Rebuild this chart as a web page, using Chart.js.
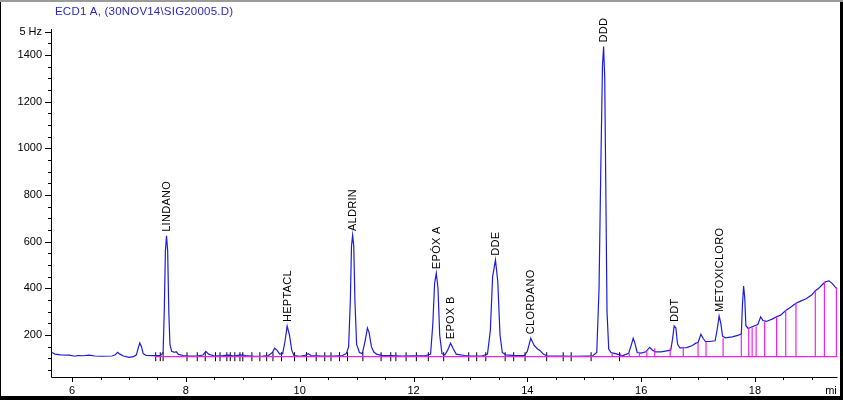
<!DOCTYPE html>
<html>
<head>
<meta charset="utf-8">
<script src="https://cdn.jsdelivr.net/npm/chart.js@4"></script>
<style>
  body { margin: 0; background: #fff; }
  canvas { display: block; }
</style>
</head>
<body>
<canvas id="chromatogram" width="843" height="400"></canvas>
<script>
// signal (time in min, response in Hz)
const sigTime = [5.65, 5.70, 5.80, 5.95, 6.05, 6.10, 6.20, 6.30, 6.40, 6.50, 6.70, 6.76, 6.80, 6.84, 6.90, 7.00, 7.08, 7.13, 7.17, 7.19, 7.22, 7.25, 7.30, 7.40, 7.50, 7.56,
    7.60, 7.62, 7.64, 7.66, 7.68, 7.70, 7.72, 7.75, 7.80, 7.83, 7.87, 7.95, 8.05, 8.20, 8.30, 8.35, 8.40, 8.50, 8.65, 8.75, 8.85, 8.95, 9.05, 9.20, 9.35, 9.45,
    9.52, 9.56, 9.60, 9.65, 9.70, 9.74, 9.78, 9.82, 9.86, 9.90, 10.00, 10.10, 10.15, 10.20, 10.40, 10.60, 10.75, 10.82, 10.86, 10.89, 10.91, 10.93, 10.95, 10.97,
    11.00, 11.05, 11.10, 11.15, 11.19, 11.22, 11.26, 11.30, 11.35, 11.45, 11.60, 11.80, 12.00, 12.20, 12.30, 12.34, 12.37, 12.40, 12.43, 12.46, 12.50, 12.55,
    12.60, 12.65, 12.70, 12.75, 12.80, 12.90, 13.00, 13.20, 13.30, 13.35, 13.39, 13.44, 13.48, 13.52, 13.56, 13.62, 13.80, 13.95, 14.00, 14.06, 14.12, 14.18,
    14.22, 14.28, 14.35, 14.60, 14.80, 15.05, 15.15, 15.22, 15.26, 15.29, 15.32, 15.34, 15.36, 15.38, 15.40, 15.43, 15.47, 15.55, 15.62, 15.66, 15.72, 15.78,
    15.83, 15.86, 15.89, 15.93, 16.00, 16.08, 16.15, 16.20, 16.25, 16.35, 16.45, 16.52, 16.55, 16.58, 16.61, 16.64, 16.68, 16.80, 16.90, 16.96, 17.00, 17.05,
    17.09, 17.13, 17.20, 17.30, 17.34, 17.37, 17.40, 17.43, 17.48, 17.60, 17.70, 17.76, 17.78, 17.80, 17.82, 17.84, 17.88, 17.95, 18.05, 18.10, 18.14, 18.20,
    18.30, 18.38, 18.45, 18.54, 18.62, 18.72, 18.80, 18.90, 19.00, 19.06, 19.12, 19.18, 19.24, 19.30, 19.36, 19.42, 19.45];
const sigValue = [125, 118, 115, 114, 109, 112, 111, 114, 110, 109, 110, 115, 126, 118, 110, 104, 107, 115, 150, 166, 150, 120, 113, 112, 112, 113,
    125, 300, 560, 625, 560, 300, 160, 130, 126, 128, 117, 112, 110, 110, 114, 130, 118, 110, 112, 114, 110, 115, 112, 109, 110, 112,
    125, 143, 135, 118, 120, 170, 238, 200, 135, 112, 108, 113, 120, 112, 110, 110, 112, 120, 150, 350, 580, 628, 580, 350,
    160, 125, 120, 175, 230, 210, 150, 128, 118, 112, 112, 110, 111, 111, 118, 250, 420, 465, 400, 200, 120, 114,
    135, 165, 140, 118, 116, 112, 110, 110, 118, 220, 450, 522, 430, 200, 125, 115, 112, 112, 130, 186, 155, 140,
    134, 118, 110, 110, 108, 110, 111, 125, 400, 900, 1350, 1436, 1300, 800, 300, 140, 125, 120, 115, 110, 116, 122,
    160, 186, 165, 125, 122, 128, 147, 135, 128, 128, 132, 135, 180, 239, 230, 160, 145, 146, 155, 165, 168, 203,
    185, 172, 172, 175, 230, 281, 250, 195, 188, 192, 198, 205, 330, 410, 360, 240, 228, 235, 245, 278, 262, 258,
    268, 278, 285, 305, 318, 336, 345, 355, 372, 390, 400, 415, 428, 432, 420, 402, 400];

const peakNames = ['LINDANO', 'HEPTACL', 'ALDRIN', 'EPÓX A', 'EPOX B', 'DDE', 'CLORDANO', 'DDD', 'DDT', 'METOXICLORO'];
const peakTimes = [7.66, 9.78, 10.93, 12.40, 12.65, 13.44, 14.06, 15.34, 16.58, 17.37];
const peakHeights = [625, 238, 628, 465, 165, 522, 186, 1436, 239, 281];

// integration baseline, drop lines and event marks
const baseStart = 7.45;
const baseLevel = 107;
const dropTimes = [15.49, 15.64, 15.79, 15.97, 16.10, 16.24, 16.51, 16.74, 17.00, 17.14, 17.44, 17.76, 17.89, 17.95, 18.02, 18.17, 18.38, 18.54, 18.72, 19.06, 19.22, 19.43];
const dropTops = [124, 121, 121, 128, 133, 143, 143, 150, 167, 171, 186, 204, 229, 233, 236, 257, 278, 307, 336, 390, 429, 400];
const eventTimes = [7.47, 7.55, 7.60, 8.02, 8.20, 8.34, 8.52, 8.60, 8.72, 8.78, 8.86, 8.95, 9.00, 9.16, 9.30, 9.42, 9.53, 9.68, 9.91, 10.12, 10.29, 10.44,
    10.55, 10.70, 10.84, 11.11, 11.43, 11.60, 11.69, 11.87, 12.05, 12.26, 12.53, 12.97, 13.11, 13.27, 13.61, 13.76, 13.96, 14.34, 14.63, 14.77, 15.12, 15.62];

const yTicks = [200, 400, 600, 800, 1000, 1200, 1400, 1500];
const yTickLabels = ['200', '400', '600', '800', '1000', '1200', '1400', '5 Hz'];
const xTicks = [6, 8, 10, 12, 14, 16, 18];

const MAGENTA = '#f020f0';
const BLUE = '#1c1ce0';

const dropData = [];
dropTimes.forEach((t, i) => {
    dropData.push({ x: t, y: baseLevel }, { x: t, y: dropTops[i] }, { x: t, y: null });
});

const decor = {
    id: 'decor',
    beforeDraw(chart) {
        const c = chart.ctx;
        c.save();
        c.fillStyle = '#fff';
        c.fillRect(0, 0, chart.width, chart.height);
        c.restore();
    },
    afterDraw(chart) {
        const c = chart.ctx;
        const xs = chart.scales.x, ys = chart.scales.y;
        const a = chart.chartArea;
        c.save();
        c.strokeStyle = '#000';
        c.lineWidth = 1;
        // axes
        c.beginPath();
        c.moveTo(a.left + 0.5, a.top);
        c.lineTo(a.left + 0.5, a.bottom + 0.5);
        c.lineTo(a.right, a.bottom + 0.5);
        c.stroke();
        // y ticks every 50
        c.beginPath();
        for (let v = 50; v <= 1500; v += 50) {
            const y = Math.round(ys.getPixelForValue(v)) + 0.5;
            const len = v % 200 === 0 || v === 1500 ? 6 : 3;
            c.moveTo(a.left - len, y);
            c.lineTo(a.left, y);
        }
        // x ticks every 0.5 min
        for (let t = 6; t <= 19.4; t += 0.5) {
            const x = Math.round(xs.getPixelForValue(t)) + 0.5;
            const len = t % 2 === 0 ? 5 : 3;
            c.moveTo(x, a.bottom);
            c.lineTo(x, a.bottom + len);
        }
        c.stroke();

        c.fillStyle = '#000';
        c.font = '11px "Liberation Sans", Arial, sans-serif';
        c.textAlign = 'right';
        c.textBaseline = 'middle';
        yTicks.forEach((v, i) => c.fillText(yTickLabels[i], 42, ys.getPixelForValue(v)));
        c.textAlign = 'center';
        xTicks.forEach(t => c.fillText(String(t), xs.getPixelForValue(t), 391));
        c.fillText('mi', 831, 391);

        // peak names
        c.textAlign = 'left';
        c.letterSpacing = '0.3px';
        peakNames.forEach((name, i) => {
            c.save();
            c.translate(xs.getPixelForValue(peakTimes[i]) + 0.5, ys.getPixelForValue(peakHeights[i]) - 4);
            c.rotate(-Math.PI / 2);
            c.fillText(name, 0, 0);
            c.restore();
        });

        // title
        c.fillStyle = '#2828c8';
        c.font = '11.5px "Liberation Sans", Arial, sans-serif';
        c.letterSpacing = '0.2px';
        c.fillText('ECD1 A, (30NOV14\\SIG20005.D)', 55, 12);

        // frame
        c.fillStyle = '#000';
        c.fillRect(840, 0, 3, 400);
        c.fillRect(0, 396, 843, 4);
        c.fillRect(0, 0, 1, 400);
        c.fillStyle = '#9a9a9a';
        c.fillRect(0, 0, 843, 2);
        c.restore();
    }
};

new Chart(document.getElementById('chromatogram').getContext('2d'), {
    type: 'line',
    data: {
        datasets: [
            {
                label: 'baseline',
                data: [{ x: baseStart, y: baseLevel }, { x: 19.45, y: baseLevel }],
                borderColor: MAGENTA,
                borderWidth: 1.2,
                pointRadius: 0
            },
            {
                label: 'drops',
                data: dropData,
                borderColor: MAGENTA,
                borderWidth: 1.2,
                pointRadius: 0,
                spanGaps: false
            },
            {
                label: 'signal',
                data: sigTime.map((t, i) => ({ x: t, y: sigValue[i] })),
                borderColor: BLUE,
                borderWidth: 1.2,
                pointRadius: 0,
                tension: 0
            },
            {
                label: 'events',
                type: 'scatter',
                data: eventTimes.map(t => ({ x: t, y: baseLevel })),
                pointStyle: 'line',
                rotation: 90,
                pointRadius: 4.5,
                borderColor: '#000',
                borderWidth: 1
            }
        ]
    },
    options: {
        responsive: false,
        animation: false,
        events: [],
        layout: { padding: { top: 29, right: 3, left: 0, bottom: 0 } },
        plugins: {
            legend: { display: false },
            tooltip: { enabled: false }
        },
        scales: {
            x: {
                type: 'linear',
                min: 5.63,
                max: 19.45,
                grid: { display: false },
                border: { display: false },
                ticks: { display: false },
                afterFit: s => { s.height = 23; }
            },
            y: {
                min: 20,
                max: 1511,
                grid: { display: false },
                border: { display: false },
                ticks: { display: false },
                afterFit: s => { s.width = 51; }
            }
        }
    },
    plugins: [decor]
});
</script>
</body>
</html>
